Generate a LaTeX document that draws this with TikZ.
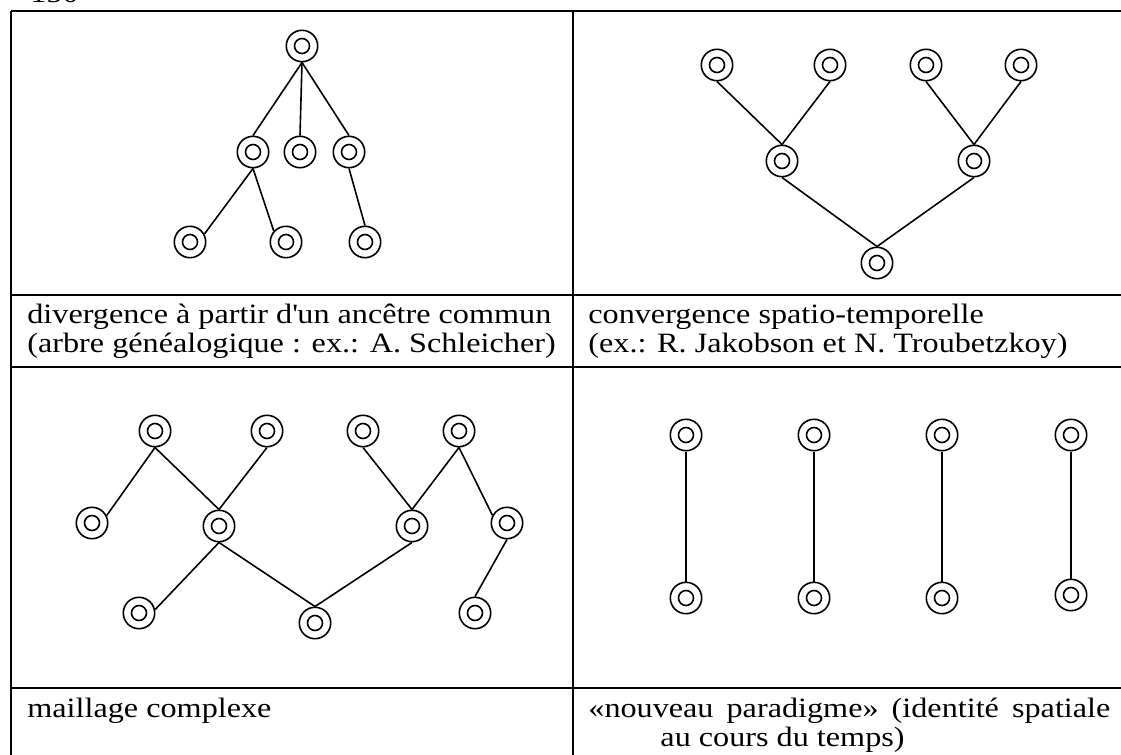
\documentclass[tikz,border=0pt]{standalone}
\usepackage{fontspec}
\setmainfont{Liberation Serif}[FakeStretch=1.15]
\tikzset{
  site/.style={circle, draw, line width=0.8pt, minimum size=15.7pt, inner sep=0pt,
    path picture={\draw[line width=0.8pt] (path picture bounding box.center) circle (3.75pt);}},
  link/.style={line width=0.8pt},
  rule/.style={line width=1pt},
  captext/.style={anchor=base west, inner sep=0pt, font=\fontsize{14pt}{14.5pt}\selectfont},
  captextr/.style={anchor=base east, inner sep=0pt, font=\fontsize{14pt}{14.5pt}\selectfont}
}
\begin{document}
\begin{tikzpicture}[x=0.5pt, y=-0.5pt]
\useasboundingbox (0,0) rectangle (1121,755);
% page number (mostly cut off at the top edge, as in the reference)
\node[captext] (pnum) at (30,3) {150};
% table rules
\draw[rule] (11,11) -- (1130,11);
\draw[rule] (11,295) -- (1130,295);
\draw[rule] (11,367) -- (1130,367);
\draw[rule] (11,688) -- (1130,688);
\draw[rule] (11,11) -- (11,760);
\draw[rule] (573,11) -- (573,760);

% panel 1: divergence
\node[site] (r) at (302,46) {};
\node[site] (a) at (253,152) {};
\node[site] (b) at (300,152) {};
\node[site] (c) at (349,152) {};
\node[site] (d) at (190,242) {};
\node[site] (e) at (286,242) {};
\node[site] (f) at (365,242) {};
\draw[link] (r.south) -- (a.north);
\draw[link] (r.south) -- (b.north);
\draw[link] (r.south) -- (c.north);
\draw[link] (a.south) -- (d.29);
\draw[link] (a.south) -- (e.138);
\draw[link] (c.south) -- (f.north);

% panel 2: convergence
\node[site] (t1) at (717,65) {};
\node[site] (t2) at (830,65) {};
\node[site] (t3) at (926,65) {};
\node[site] (t4) at (1021,65) {};
\node[site] (m1) at (782,161) {};
\node[site] (m2) at (974,161) {};
\node[site] (bt) at (877,263) {};
\draw[link] (t1.south) -- (m1.north);
\draw[link] (t2.south) -- (m1.north);
\draw[link] (t3.south) -- (m2.north);
\draw[link] (t4.south) -- (m2.north);
\draw[link] (m1.south) -- (bt.north);
\draw[link] (m2.south) -- (bt.north);

% panel 3: maillage complexe
\node[site] (p1) at (155,431) {};
\node[site] (p2) at (267,431) {};
\node[site] (p3) at (363,431) {};
\node[site] (p4) at (459,431) {};
\node[site] (q1) at (92,523) {};
\node[site] (q2) at (219,526) {};
\node[site] (q3) at (412,526) {};
\node[site] (q4) at (507,523) {};
\node[site] (s1) at (139,613) {};
\node[site] (s2) at (315,623) {};
\node[site] (s3) at (475,613) {};
\draw[link] (p1.south) -- (q1.27);
\draw[link] (p1.south) -- (q2.north);
\draw[link] (p2.south) -- (q2.north);
\draw[link] (p3.south) -- (q3.north);
\draw[link] (p4.south) -- (q3.north);
\draw[link] (p4.south) -- (q4.152);
\draw[link] (q2.south) -- (s1.12);
\draw[link] (q2.south) -- (s2.north);
\draw[link] (q3.south) -- (s2.north);
\draw[link] (q4.south) -- (s3.north);

% panel 4: nouveau paradigme
\node[site] (u1) at (686,435) {};
\node[site] (u2) at (814,435) {};
\node[site] (u3) at (942,435) {};
\node[site] (u4) at (1071,435) {};
\node[site] (v1) at (686,598) {};
\node[site] (v2) at (814,598) {};
\node[site] (v3) at (942,598) {};
\node[site] (v4) at (1071,595) {};
\draw[link] (u1.south) -- (v1.north);
\draw[link] (u2.south) -- (v2.north);
\draw[link] (u3.south) -- (v3.north);
\draw[link] (u4.south) -- (v4.north);

% captions
\node[captext] (c1a) at (27,323) {divergence à partir d\textquotesingle un ancêtre commun};
\node[captext] (c1b) at (27,352) {(arbre généalogique : ex.: A. Schleicher)};
\node[captext] (c2a) at (588,323) {convergence spatio-temporelle};
\node[captext] (c2b) at (588,352) {(ex.: R. Jakobson et N. Troubetzkoy)};
\node[captext] (c3a) at (27,717) {maillage complexe};
\node[captext] (c4a) at (588,717) {\makebox[261pt][s]{«nouveau paradigme» (identité spatiale}};
\node[captextr] (c4b) at (905,746) {au cours du temps)};
\end{tikzpicture}
\end{document}
